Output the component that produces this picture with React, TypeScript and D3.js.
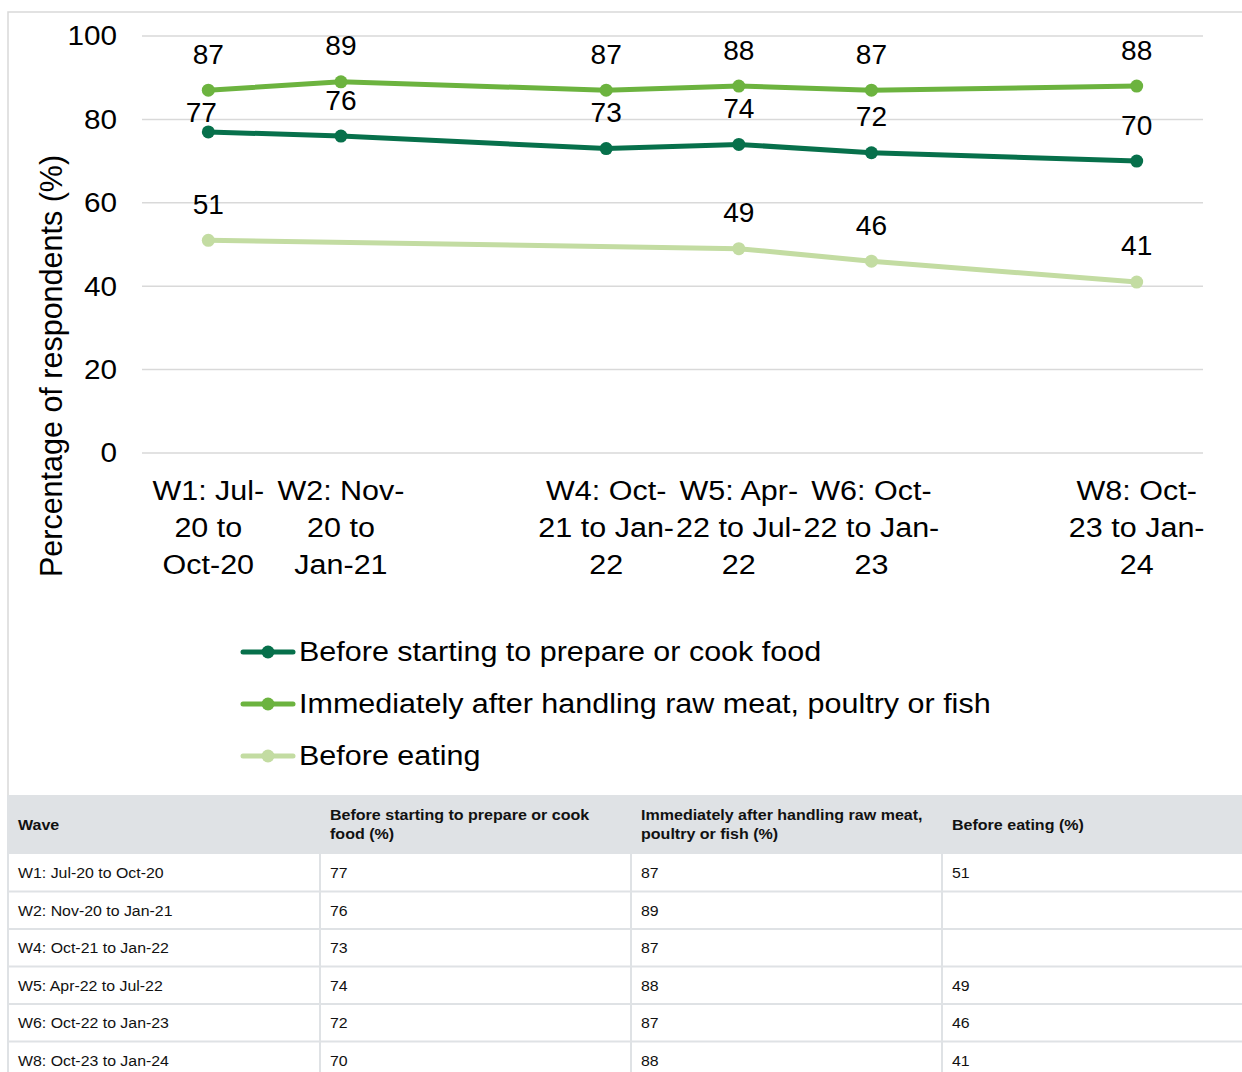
import React from "react";
import * as d3 from "d3";

const waveNums = [1, 2, 4, 5, 6, 8];
const waveNames = [
  "W1: Jul-20 to Oct-20",
  "W2: Nov-20 to Jan-21",
  "W4: Oct-21 to Jan-22",
  "W5: Apr-22 to Jul-22",
  "W6: Oct-22 to Jan-23",
  "W8: Oct-23 to Jan-24",
];
const waveTickLines = [
  ["W1: Jul-", "20 to", "Oct-20"],
  ["W2: Nov-", "20 to", "Jan-21"],
  ["W4: Oct-", "21 to Jan-", "22"],
  ["W5: Apr-", "22 to Jul-", "22"],
  ["W6: Oct-", "22 to Jan-", "23"],
  ["W8: Oct-", "23 to Jan-", "24"],
];
const beforeCooking = [77, 76, 73, 74, 72, 70];
const afterRawMeat = [87, 89, 87, 88, 87, 88];
const beforeEating: (number | null)[] = [51, null, null, 49, 46, 41];
const yTicks = [0, 20, 40, 60, 80, 100];

const seriesNames = [
  "Before starting to prepare or cook food",
  "Immediately after handling raw meat, poultry or fish",
  "Before eating",
];
const tableHeaders = [
  ["Wave"],
  ["Before starting to prepare or cook", "food (%)"],
  ["Immediately after handling raw meat,", "poultry or fish (%)"],
  ["Before eating (%)"],
];

const colors = ["#07704b", "#6cb33f", "#c3dca2"];
const font = "'Liberation Sans', Arial, sans-serif";

// text is drawn a bit wider than the font, like the source
const at = (x: number, y: number, k: number) => `translate(${x},${y}) scale(${k},1)`;

export default function App() {
  const W = 1242, H = 1072;
  const x = d3.scaleBand<number>().domain(d3.range(1, 9)).range([142, 1203]);
  const xc = (w: number) => (x(w) as number) + x.bandwidth() / 2;
  const y = d3.scaleLinear().domain([0, 100]).range([453, 36]);

  const series = [beforeCooking, afterRawMeat, beforeEating];
  const line = d3
    .line<{ w: number; v: number | null }>()
    .defined((d) => d.v != null)
    .x((d) => xc(d.w))
    .y((d) => y(d.v as number));

  const colX = [8, 320, 631, 942];
  const headerTop = 795, headerH = 59, rowH = 37.5;

  return (
    <svg width={W} height={H} style={{ position: "absolute", left: 0, top: 0 }} fontFamily={font}>
      <rect x={0} y={0} width={W} height={H} fill="#fff" />
      {/* chart frame */}
      <path d={`M8,${headerTop} V12 H${W + 5}`} fill="none" stroke="#d9d9d9" strokeWidth={1.5} />

      {yTicks.map((t) => (
        <g key={t}>
          <line x1={142} x2={1203} y1={y(t)} y2={y(t)} stroke="#d9d9d9" strokeWidth={1.5} />
          <text transform={at(117, y(t), 1.1)} dy="0.35em" textAnchor="end" fontSize={27} fill="#000">
            {t}
          </text>
        </g>
      ))}

      <text
        transform={`translate(51,366) rotate(-90)`}
        textAnchor="middle"
        dy="0.35em"
        fontSize={30.5}
        fill="#000"
      >
        Percentage of respondents (%)
      </text>

      {waveTickLines.map((lines, i) => (
        <text key={i} transform={at(xc(waveNums[i]), 491, 1.13)} textAnchor="middle" fontSize={27} fill="#000">
          {lines.map((l, j) => (
            <tspan key={j} x={0} y={j * 37} dy="0.35em">
              {l}
            </tspan>
          ))}
        </text>
      ))}

      {series.map((vals, s) => {
        const pts = vals.map((v, i) => ({ w: waveNums[i], v }));
        const drawn = pts.filter((p) => p.v != null);
        return (
          <g key={s}>
            <path d={line(drawn) || ""} fill="none" stroke={colors[s]} strokeWidth={5} />
            {drawn.map((p, i) => (
              <circle key={i} cx={xc(p.w)} cy={y(p.v as number)} r={6.5} fill={colors[s]} />
            ))}
            {drawn.map((p, i) => {
              const nudge = s === 0 && p.w === 1 ? { dx: -7, dy: -19 } : { dx: 0, dy: -36 };
              return (
                <text
                  key={"l" + i}
                  transform={at(xc(p.w) + nudge.dx, y(p.v as number) + nudge.dy, 1.04)}
                  dy="0.35em"
                  textAnchor="middle"
                  fontSize={27}
                  fill="#000"
                >
                  {p.v}
                </text>
              );
            })}
          </g>
        );
      })}

      {seriesNames.map((n, i) => {
        const ly = 652 + i * 52;
        return (
          <g key={n}>
            <line x1={243} x2={293} y1={ly} y2={ly} stroke={colors[i]} strokeWidth={5} strokeLinecap="round" />
            <circle cx={268} cy={ly} r={6.5} fill={colors[i]} />
            <text transform={at(299, ly, 1.13)} dy="0.35em" fontSize={27} fill="#000">
              {n}
            </text>
          </g>
        );
      })}

      {/* table */}
      <rect x={8} y={headerTop} width={W} height={headerH} fill="#dfe2e5" />
      {tableHeaders.map((lines, c) => (
        <text key={c} transform={at(colX[c] + 10, headerTop + headerH / 2, 1.07)} fontSize={15} fontWeight="bold" fill="#111">
          {lines.map((l, j) => (
            <tspan key={j} x={0} y={(j - (lines.length - 1) / 2) * 19.5} dy="0.35em">
              {l}
            </tspan>
          ))}
        </text>
      ))}
      {waveNames.map((name, r) => {
        const top = headerTop + headerH + r * rowH;
        const cells = [name, beforeCooking[r], afterRawMeat[r], beforeEating[r]];
        return (
          <g key={name}>
            {cells.map((c, k) => (
              <text key={k} transform={at(colX[k] + 10, top + rowH / 2, 1.06)} dy="0.35em" fontSize={15} fill="#111">
                {c == null ? "" : String(c)}
              </text>
            ))}
            <line x1={8} x2={W} y1={top + rowH} y2={top + rowH} stroke="#dfe2e5" strokeWidth={2} />
          </g>
        );
      })}
      {colX.map((cx, k) => (
        <line
          key={k}
          x1={cx}
          x2={cx}
          y1={k === 0 ? headerTop : headerTop + headerH}
          y2={H}
          stroke="#dfe2e5"
          strokeWidth={2}
        />
      ))}
    </svg>
  );
}
